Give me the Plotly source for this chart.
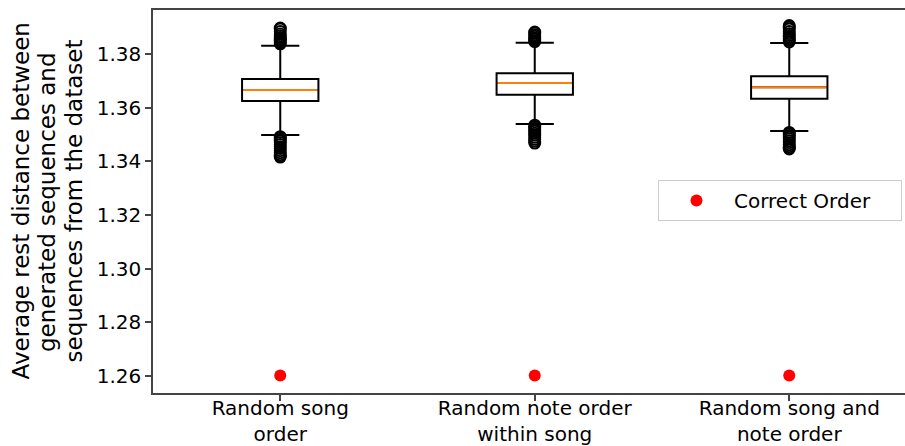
import plotly.graph_objects as go

categories = ["Random song<br>order", "Random note order<br>within song", "Random song and<br>note order"]
positions = [1, 2, 3]
q1 = [1.3625, 1.3648, 1.3633]
median = [1.3666, 1.3692, 1.3676]
q3 = [1.3707, 1.3728, 1.3717]
lower_whisker = [1.3498, 1.3539, 1.3513]
upper_whisker = [1.3831, 1.3842, 1.3841]
outliers_high = [
    [1.3838, 1.3843, 1.3848, 1.3852, 1.3857, 1.3862, 1.3868, 1.3875, 1.3884, 1.3893, 1.3897],
    [1.3846, 1.3850, 1.3855, 1.3860, 1.3866, 1.3872, 1.3878, 1.3882],
    [1.3845, 1.3851, 1.3857, 1.3863, 1.3869, 1.3876, 1.3884, 1.3893, 1.3900, 1.3906],
]
outliers_low = [
    [1.3492, 1.3487, 1.3482, 1.3476, 1.3470, 1.3463, 1.3455, 1.3448, 1.3440, 1.3432, 1.3425, 1.3420, 1.3416],
    [1.3535, 1.3530, 1.3524, 1.3518, 1.3512, 1.3505, 1.3498, 1.3490, 1.3482, 1.3475, 1.3468],
    [1.3508, 1.3502, 1.3496, 1.3490, 1.3484, 1.3477, 1.3470, 1.3462, 1.3455, 1.3450, 1.3446],
]
correct_order = [1.2602, 1.2602, 1.2602]
y_ticks = [1.26, 1.28, 1.30, 1.32, 1.34, 1.36, 1.38]
y_title_lines = ["Average rest distance between", "generated sequences and", "sequences from the dataset"]

BOX_W = 0.3
FONT = "DejaVu Sans"

fig = go.Figure()
for i, p in enumerate(positions):
    fig.add_trace(go.Box(
        x=[p], q1=[q1[i]], median=[median[i]], q3=[q3[i]],
        lowerfence=[lower_whisker[i]], upperfence=[upper_whisker[i]],
        width=BOX_W, whiskerwidth=0.5, boxpoints=False,
        fillcolor="white", line=dict(color="black", width=2),
        showlegend=False, hoverinfo="skip",
    ))
    # orange median line
    fig.add_trace(go.Scatter(
        x=[p - BOX_W / 2 + 0.004, p + BOX_W / 2 - 0.004], y=[median[i], median[i]],
        mode="lines", line=dict(color="#ff7f0e", width=2),
        showlegend=False, hoverinfo="skip",
    ))
    fl = outliers_high[i] + outliers_low[i]
    fig.add_trace(go.Scatter(
        x=[p] * len(fl), y=fl, mode="markers",
        marker=dict(symbol="circle-open", size=11, color="black", line=dict(width=1.9, color="black")),
        showlegend=False, hoverinfo="skip",
    ))

fig.add_trace(go.Scatter(
    x=positions, y=correct_order, mode="markers",
    marker=dict(symbol="circle", size=12, color="red"),
    name="Correct Order&nbsp;&nbsp;&nbsp;&nbsp;", showlegend=True,
))

left, right, top, bottom = 153, 0, 10, 53
W, H = 905, 446
plot_w = W - left - right
plot_h = H - top - bottom
px_per_unit = 254.5
x_min = 0.5
x_max = x_min + plot_w / px_per_unit

title_x_px = [20, 46.5, 73]
annotations = [dict(
    text=t, xref="paper", yref="paper", x=-(left - xp) / plot_w, y=0.5,
    xanchor="center", yanchor="middle", textangle=-90, showarrow=False,
    font=dict(family=FONT, size=23, color="black"),
) for t, xp in zip(y_title_lines, title_x_px)]

fig.update_layout(
    width=W, height=H,
    margin=dict(l=left, r=right, t=top, b=bottom, pad=0, autoexpand=False),
    paper_bgcolor="white", plot_bgcolor="white",
    font=dict(family=FONT, size=20, color="black"),
    showlegend=True,
    legend=dict(
        x=(658 - left) / plot_w, y=(H - bottom - 180) / plot_h,
        xanchor="left", yanchor="top",
        bordercolor="#cccccc", borderwidth=1, bgcolor="white",
        font=dict(family=FONT, size=20, color="black"),
        itemwidth=65,
    ),
    xaxis=dict(
        range=[x_min, x_max], tickmode="array", tickvals=positions, ticktext=categories,
        showgrid=False, zeroline=False, showline=True, mirror=True,
        linecolor="#444444", linewidth=1.6, automargin=False,
        ticks="outside", ticklen=6, tickwidth=1.6, tickcolor="#444444",
        ticklabelstandoff=-10,
        tickfont=dict(family=FONT, size=20, color="black"),
    ),
    yaxis=dict(
        range=[1.2537, 1.3964], tickmode="array", tickvals=y_ticks,
        ticktext=[f"{v:.2f}" for v in y_ticks],
        showgrid=False, zeroline=False, showline=True, mirror=False,
        linecolor="#444444", linewidth=1.6, automargin=False,
        ticks="outside", ticklen=6, tickwidth=1.6, tickcolor="#444444",
        tickfont=dict(family=FONT, size=20, color="black"),
    ),
    annotations=annotations,
)

fig.write_html("out.html")
